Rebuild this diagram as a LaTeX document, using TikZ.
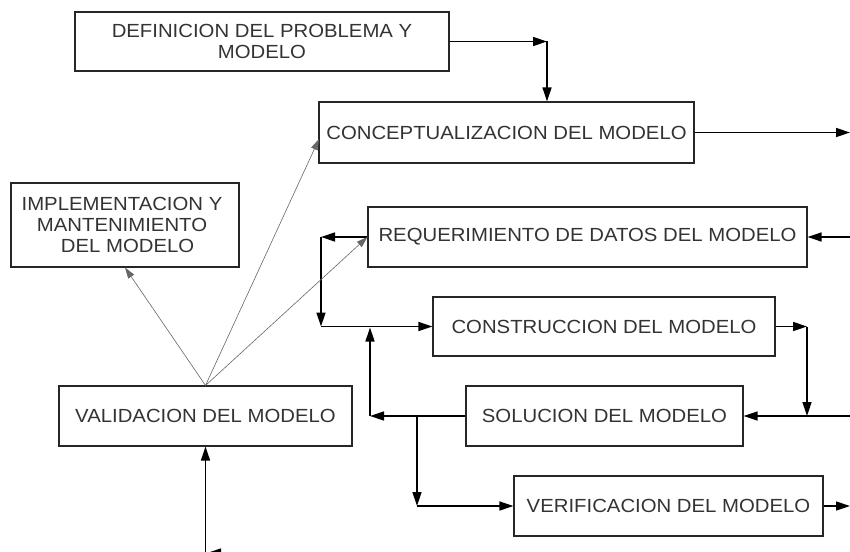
\documentclass[tikz,border=0pt]{standalone}
\usepackage{fontspec}
\setmainfont{Liberation Sans}[FakeStretch=1.07]
\usetikzlibrary{arrows.meta}
\begin{document}
\begin{tikzpicture}[x=1pt,y=-1pt,
  box/.style={draw=black!85,line width=1.1pt,inner sep=0pt,text=black!80,
    font=\fontsize{19}{21}\selectfont,align=center},
  conn/.style={draw=black,line width=1.4pt,-{Triangle[length=14pt,width=9pt]}},
  thinconn/.style={draw=black!60,line width=0.6pt,-{Triangle[length=11pt,width=7pt]}}]
\useasboundingbox (0,0) rectangle (850,551);
\clip (0,0) rectangle (850,551);
% boxes
\node[box,minimum width=374pt,minimum height=59pt] (def) at (262,41.5) {DEFINICION DEL PROBLEMA Y\\MODELO};
\node[box,minimum width=375pt,minimum height=61pt] (concept) at (506.5,132.5) {CONCEPTUALIZACION DEL MODELO};
\node[box,minimum width=228pt,minimum height=84pt] (impl) at (125,225) {};
\node[text=black!80,font=\fontsize{19}{21}\selectfont,align=center] (impltext) at (122,224.5) {IMPLEMENTACION Y\\MANTENIMIENTO~\\~~DEL MODELO};
\node[box,minimum width=439pt,minimum height=60pt] (req) at (587.5,237) {REQUERIMIENTO DE DATOS DEL MODELO};
\node[box,minimum width=342pt,minimum height=59pt] (constr) at (604,326.5) {CONSTRUCCION DEL MODELO};
\node[box,minimum width=293pt,minimum height=60pt] (valid) at (205.5,416) {VALIDACION DEL MODELO};
\node[box,minimum width=277pt,minimum height=60pt] (sol) at (604.5,416) {SOLUCION DEL MODELO};
\node[box,minimum width=309pt,minimum height=60pt] (verif) at (668.5,506) {VERIFICACION DEL MODELO};
% coordinates
\coordinate (c1) at (547,41.5);
\coordinate (rc) at (850,132.5);
\coordinate (rr) at (850,237);
\coordinate (lr) at (321,237);
\coordinate (lb) at (321,326.5);
\coordinate (cr) at (807,326.5);
\coordinate (rs) at (850,416);
\coordinate (ls) at (370,416);
\coordinate (lu) at (370,327.5);
\coordinate (bs) at (417,416);
\coordinate (bv) at (417,506);
\coordinate (rv) at (850,506);
\coordinate (vb) at (205.5,560);
\coordinate (ba1) at (240,553);
\coordinate (ba2) at (207,553);
\coordinate (cw) at (319,139);
% connectors
\draw[conn] (def.east) -- (c1);
\draw[conn] (c1) -- (c1 |- concept.north);
\draw[conn] (concept.east) -- (rc);
\draw[conn] (rr) -- (req.east);
\draw[conn] (req.west) -- (lr);
\draw[conn] (lr) -- (lb);
\draw[conn] (lb) -- (constr.west);
\draw[conn] (constr.east) -- (cr);
\draw[conn] (cr) -- (cr |- sol.east);
\draw[conn] (rs) -- (sol.east);
\draw[conn] (sol.west) -- (ls);
\draw[conn] (ls) -- (lu);
\draw[conn] (bs) -- (bv);
\draw[conn] (bv) -- (verif.west);
\draw[conn] (verif.east) -- (rv);
\draw[conn] (vb) -- (valid.south);
\draw[conn] (ba1) -- (ba2);
% thin connectors
\draw[thinconn] (valid.north) -- (impl.south);
\draw[thinconn] (valid.north) -- (cw);
\draw[thinconn] (valid.north) -- (req.west);
\end{tikzpicture}
\end{document}
